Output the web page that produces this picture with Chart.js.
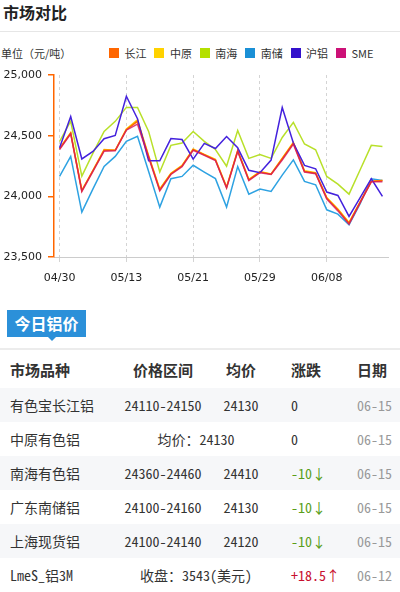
<!DOCTYPE html>
<html lang="zh-CN">
<head>
<meta charset="utf-8">
<title>市场对比</title>
<script src="https://cdn.jsdelivr.net/npm/chart.js@4.4.1/dist/chart.umd.min.js"></script>
<style>
    body {
        margin: 0;
        width: 400px;
        height: 592px;
        overflow: hidden;
        position: relative;
        background: #fff;
        color: #333;
        font-family: "Noto Sans CJK SC", "DejaVu Sans", sans-serif;
    }
    .title {
        position: absolute; left: 3px; top: 2px;
        font-size: 16px; font-weight: bold; line-height: 20px; color: #222;
    }
    .title-line { position: absolute; left: 0; top: 31px; width: 400px; height: 1px; background: #e6e6e6; }
    .unit { position: absolute; left: 1px; top: 46px; font-size: 11px; line-height: 14px; color: #333; }
    .legend { position: absolute; left: 109px; top: 47px; display: flex; }
    .legend-item { width: 45.4px; display: flex; align-items: center; font-size: 11px; line-height: 12px; color: #333; }
    .legend-item i { display: inline-block; width: 10px; height: 10px; margin-right: 5.5px; }
    .chart-box { position: absolute; left: 0; top: 40px; width: 400px; height: 250px; }
    .tag {
        position: absolute; left: 7px; top: 310px; width: 79px; height: 27px;
        background: #2b90d9; color: #fff; font-size: 16px; font-weight: bold;
        line-height: 27px; text-align: center;
    }
    .tag:after {
        content: ""; position: absolute; left: 41px; top: 27px;
        border-left: 4px solid transparent; border-right: 4px solid transparent;
        border-top: 4px solid #2b90d9;
    }
    .sep { position: absolute; left: 0; top: 348px; width: 400px; height: 2px; background: #ececec; }
    table {
        position: absolute; left: 0; top: 350px; width: 400px;
        border-collapse: collapse; table-layout: fixed;
    }
    th, td { padding: 0; white-space: nowrap; }
    th { height: 38px; font-size: 15px; font-weight: bold; color: #333; }
    td { height: 34px; font-size: 14px; color: #333; }
    td.num { font-family: "Noto Sans Mono CJK SC", "Noto Sans CJK SC", monospace; }
    tr.gray td { background: #f6f7f9; }
    .c1 { text-align: left; padding-left: 10px; }
    .c2, .c3 { text-align: center; }
    .c4, .c5 { text-align: left; padding-left: 17px; }
    .date { color: #999; }
    .down { color: #5a9e1a; }
    .up { color: #c8102e; }
</style>
</head>
<body>

<div class="title">市场对比</div>
<div class="title-line"></div>
<div class="unit">单位（元/吨）</div>
<div class="legend" id="legend"></div>
<div class="chart-box"><canvas id="priceChart"></canvas></div>

<div class="tag">今日铝价</div>
<div class="sep"></div>
<table id="priceTable">
    <colgroup><col style="width:118px"><col style="width:90px"><col style="width:66px"><col style="width:66px"><col style="width:60px"></colgroup>
    <thead>
        <tr><th class="c1">市场品种</th><th class="c2">价格区间</th><th class="c3">均价</th><th class="c4">涨跌</th><th class="c5">日期</th></tr>
    </thead>
    <tbody id="priceRows"></tbody>
</table>

<script>
// x axis dates, a label is shown every 6th point
const dates = [
    '04/30', '05/06', '05/07', '05/08', '05/09', '05/10',
    '05/13', '05/14', '05/15', '05/16', '05/17', '05/20',
    '05/21', '05/22', '05/23', '05/24', '05/27', '05/28',
    '05/29', '05/30', '05/31', '06/03', '06/04', '06/05',
    '06/08', '06/10', '06/11', '06/12', '06/13', '06/14'
];
const tickEvery = 6;

const yMin = 23500;
const yMax = 25000;
const yStep = 500;

const seriesNames = ['长江', '中原', '南海', '南储', '沪铝', 'SME'];
const seriesColors = ['#ff6600', '#ffd200', '#b4e000', '#1a90d6', '#3311cc', '#cc1177'];
// line colours are a little softer than the legend boxes
const lineColors = ['#ff6600', '#ffcc00', '#b8e02a', '#2ea2e2', '#4422dd', 'rgba(214, 20, 90, 0.8)'];

// prices (元/吨)
const changjiang = [24392, 24521, 24046, 24211, 24379, 24379, 24549, 24618, 24329, 24054, 24185, 24250, 24385, 24343, 24300, 24072, 24376, 24135, 24200, 24183, 24310, 24439, 24205, 24191, 23985, 23889, 23779, 23952, 24123, 24130];
const zhongyuan  = [24395, 24525, 24050, 24215, 24385, 24380, 24555, 24630, 24335, 24060, 24190, 24255, 24390, 24345, 24305, 24078, 24380, 24140, 24205, 24185, 24315, 24445, 24210, 24195, 23990, 23895, 23785, 23955, 24125, 24130];
const nanhai     = [24452, 24619, 24166, 24356, 24535, 24618, 24733, 24733, 24535, 24200, 24420, 24440, 24535, 24453, 24386, 24248, 24542, 24313, 24345, 24313, 24485, 24610, 24431, 24384, 24164, 24101, 24018, 24219, 24420, 24410];
const nanchu     = [24164, 24329, 23870, 24062, 24247, 24329, 24453, 24494, 24205, 23911, 24145, 24164, 24256, 24200, 24146, 23911, 24246, 24018, 24060, 24040, 24175, 24301, 24123, 24095, 23889, 23853, 23765, 23940, 24145, 24130];
const hulv       = [24400, 24658, 24308, 24370, 24475, 24502, 24825, 24640, 24293, 24293, 24476, 24468, 24307, 24436, 24394, 24493, 24400, 24215, 24195, 24299, 24732, 24439, 24255, 24227, 24035, 24007, 23834, 23990, 24145, 24000];
const sme        = [24385, 24515, 24040, 24205, 24372, 24375, 24545, 24595, 24320, 24045, 24180, 24245, 24380, 24338, 24295, 24068, 24370, 24130, 24195, 24180, 24300, 24430, 24200, 24186, 23978, 23880, 23770, 23948, 24120, 24120];

const seriesData = [changjiang, zhongyuan, nanhai, nanchu, hulv, sme];
// lower order is drawn on top
const drawOrder = [2, 3, 5, 4, 1, 0];

// today's price table
const tableRows = [
    { name: '有色宝长江铝', range: '24110-24150', avg: '24130', change: '0', date: '06-15' },
    { name: '中原有色铝', merged: '均价：24130', change: '0', date: '06-15' },
    { name: '南海有色铝', range: '24360-24460', avg: '24410', change: '-10', date: '06-15' },
    { name: '广东南储铝', range: '24100-24160', avg: '24130', change: '-10', date: '06-15' },
    { name: '上海现货铝', range: '24100-24140', avg: '24120', change: '-10', date: '06-15' },
    { name: 'LmeS_铝3M', merged: '收盘：3543(美元)', change: '+18.5', date: '06-12' }
];

function buildLegend() {
    const box = document.getElementById('legend');
    box.innerHTML = seriesNames.map((name, i) =>
        `<span class="legend-item"><i style="background:${seriesColors[i]}"></i>${name}</span>`
    ).join('');
}

function changeHTML(change) {
    if (change.startsWith('-')) return `<span class="down">${change}↓</span>`;
    if (change.startsWith('+')) return `<span class="up">${change}↑</span>`;
    return change;
}

function buildTable() {
    const body = document.getElementById('priceRows');
    body.innerHTML = tableRows.map((row, i) => {
        const cls = i % 2 === 0 ? 'gray' : '';
        const nameCls = row.name.startsWith('Lme') ? 'c1 num' : 'c1';
        const middle = row.merged
            ? `<td class="c2 num" colspan="2">${row.merged}</td>`
            : `<td class="c2 num">${row.range}</td><td class="c3 num">${row.avg}</td>`;
        return `<tr class="${cls}">
            <td class="${nameCls}">${row.name}</td>${middle}
            <td class="c4 num">${changeHTML(row.change)}</td>
            <td class="c5 num date">${row.date}</td>
        </tr>`;
    }).join('');
}

function createPriceChart() {
    const ctx = document.getElementById('priceChart').getContext('2d');
    const tickFont = { family: 'DejaVu Sans', size: 11 };

    new Chart(ctx, {
        type: 'line',
        data: {
            labels: dates,
            datasets: seriesNames.map((name, i) => ({
                label: name,
                data: seriesData[i],
                borderColor: lineColors[i],
                backgroundColor: seriesColors[i],
                borderWidth: 1.5,
                pointRadius: 0,
                tension: 0,
                order: drawOrder[i]
            }))
        },
        options: {
            responsive: true,
            maintainAspectRatio: false,
            animation: false,
            layout: { padding: { top: 35, right: 12, bottom: 0, left: 0 } },
            plugins: {
                legend: { display: false },
                tooltip: { enabled: false }
            },
            scales: {
                x: {
                    offset: true,
                    border: { color: '#cccccc', width: 1, dash: [3, 3] },
                    grid: { color: '#d4d4d4', lineWidth: 1, tickLength: 5 },
                    ticks: {
                        autoSkip: false,
                        maxRotation: 0,
                        padding: 10,
                        color: '#222',
                        font: tickFont,
                        callback: function(value, index) {
                            return index % tickEvery === 0 ? dates[index] : null;
                        }
                    },
                    afterFit: function(scale) { scale.height = 33; }
                },
                y: {
                    min: yMin,
                    max: yMax,
                    border: { color: '#ff6600', width: 1.5 },
                    grid: { drawOnChartArea: false, color: '#ff6600', lineWidth: 1.5, tickLength: 6 },
                    ticks: {
                        stepSize: yStep,
                        padding: 6,
                        color: '#222',
                        font: tickFont,
                        callback: function(value) { return value.toLocaleString('en-US'); }
                    },
                    afterFit: function(scale) { scale.width = 54; }
                }
            }
        }
    });
}

buildLegend();
buildTable();
createPriceChart();
</script>
</body>
</html>
